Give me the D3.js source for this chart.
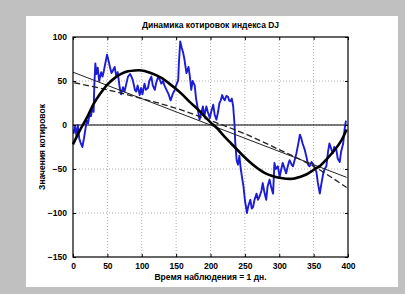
<!DOCTYPE html>
<html>
<head>
<meta charset="utf-8">
<script src="https://cdn.jsdelivr.net/npm/d3@7/dist/d3.min.js"></script>
<style>
  body { margin: 0; background: #c0c0c0; }
  svg { display: block; }
  text { font-family: "Liberation Sans", Arial, sans-serif; font-weight: bold; fill: #000; }
</style>
</head>
<body>
<svg id="chart"></svg>
<script>
// quotes (blue)
const quoteDays = [0, 1, 3, 5, 7, 9, 11, 13.6, 16, 18, 20, 22, 24, 26, 28, 30, 31, 32.5, 34, 36, 38, 41, 43, 45, 47, 49.5,
  52, 54, 56, 58, 60.6, 63, 65, 68, 70, 72.7, 75, 77, 80, 83, 85, 87, 90, 92, 94, 97, 99, 101, 104, 106, 109, 111,
  114, 116, 119, 121, 124, 126, 128.5, 131, 133, 136, 139, 142, 145, 148, 150, 153, 154, 156, 158, 160, 162, 165,
  168, 170, 172, 174, 177, 179, 181, 184, 186, 189, 191, 194, 196, 199, 201, 204, 206, 208.6, 211, 213, 215, 217,
  219, 220.6, 223, 225.5, 227, 229, 231, 233, 235, 236, 238, 240, 242, 244, 246, 248, 250, 252, 253, 255, 258,
  260, 262, 264, 267, 269, 271.5, 274, 276, 278, 281, 283, 286, 288, 291, 293, 295, 298, 300.6, 303, 305, 308,
  310, 313, 315, 318, 320, 323, 325, 328, 330, 332, 334, 337, 339.5, 342, 344, 347, 349, 352, 354, 356, 359, 361,
  364, 366, 368.5, 371, 373, 376, 378, 380, 383, 385, 388, 390, 393, 395, 397];
const quoteValues = [-5, -9, -2, -12, 0, -15, -20, -25, -15, -5, 5, 2, 13, 10, 18, 15, 45, 70, 58, 65, 50, 60, 55, 62, 70, 80,
  72, 65, 59, 62, 66, 55, 60, 42, 35, 43, 38, 45, 55, 58, 55, 51, 40, 38, 45, 34, 42, 35, 47, 40, 42, 50,
  55, 45, 40, 48, 55, 52, 47, 50, 45, 40, 35, 28, 35, 40, 45, 51, 70, 95, 88, 83, 75, 59,
  66, 55, 40, 50, 45, 30, 21, 6, 12, 21, 10, 21, 15, 8, 15, 23, 12, 6, 15, 25, 28, 34,
  30, 28, 33, 32, 28, 27, 30, 21, 0, -20, -40, -45, -35, -50, -60, -70, -85, -95, -100, -92, -85,
  -95, -93, -85, -78, -85, -81, -75, -66, -75, -85, -70, -62, -70, -78, -43, -50, -47, -59, -50, -43, -50,
  -55, -45, -40, -45, -47, -38, -32, -20, -11, -15, -21, -28, -36, -45, -47, -42, -44, -50, -53, -65, -78, -68,
  -55, -50, -47, -30, -21, -28, -32, -25, -28, -38, -42, -30, -21, -5, 5];

// fitted curves
const fitDays = [0, 10, 20, 30, 40, 50, 60, 70, 80, 90, 100, 110, 120, 130, 140, 150, 160, 170, 180, 190, 200,
  210, 220, 230, 240, 250, 260, 270, 280, 290, 300, 310, 320, 330, 340, 350, 360, 370, 380, 390, 398];
const cubicFit = [-22, -6, 8, 24, 36, 46, 53, 58, 61, 62, 62, 60, 57, 53, 47, 41, 34, 26, 19, 11, 3,
  -4, -13, -21, -29, -37, -44, -50, -55, -58, -60, -61, -61, -59, -56, -51, -46, -38, -29, -18, -5];

const lineDays = [0, 398];
const lineFit = [60, -59.5];

const dashDays = [2, 50, 100, 150, 200, 250, 300, 350, 398];
const dashFit = [48, 40, 30, 19, 5, -10, -28, -47, -71];

const xTicks = [0, 50, 100, 150, 200, 250, 300, 350, 400];
const yTicks = [-150, -100, -50, 0, 50, 100];

const W = 405, H = 294;
const margin = { top: 37, right: 57, bottom: 37, left: 73 };
const width = W - margin.left - margin.right;
const height = H - margin.top - margin.bottom;

const svg = d3.select("#chart").attr("width", W).attr("height", H);

svg.append("rect").attr("width", W).attr("height", H).attr("fill", "#c0c0c0");
svg.append("rect").attr("x", 26).attr("y", 16).attr("width", 372).attr("height", 271).attr("fill", "#fff");

const g = svg.append("g").attr("transform", "translate(" + margin.left + "," + margin.top + ")");

const x = d3.scaleLinear().domain([0, 400]).range([0, width]);
const y = d3.scaleLinear().domain([-150, 100]).range([height, 0]);

// grid
g.append("g").selectAll("line").data(xTicks.slice(1, -1)).enter().append("line")
  .attr("x1", d => x(d)).attr("x2", d => x(d)).attr("y1", 0).attr("y2", height)
  .attr("stroke", "#999").attr("stroke-width", 0.8).attr("stroke-dasharray", "1,2");
g.append("g").selectAll("line").data(yTicks.slice(1, -1)).enter().append("line")
  .attr("y1", d => y(d)).attr("y2", d => y(d)).attr("x1", 0).attr("x2", width)
  .attr("stroke", "#999").attr("stroke-width", 0.8).attr("stroke-dasharray", "1,2");

g.append("clipPath").attr("id", "clip").append("rect").attr("width", width).attr("height", height);

// zero line
g.append("line").attr("x1", x(0)).attr("x2", x(400)).attr("y1", y(0)).attr("y2", y(0))
  .attr("stroke", "#000").attr("stroke-width", 1.2);

const line = d3.line().x(d => x(d[0])).y(d => y(d[1]));

g.append("path")
  .datum(d3.zip(quoteDays, quoteValues))
  .attr("clip-path", "url(#clip)")
  .attr("fill", "none").attr("stroke", "#1c1cd6").attr("stroke-width", 1.9)
  .attr("stroke-linejoin", "round")
  .attr("d", line);

g.append("path")
  .datum(d3.zip(lineDays, lineFit))
  .attr("fill", "none").attr("stroke", "#222").attr("stroke-width", 1)
  .attr("d", line);

g.append("path")
  .datum(d3.zip(dashDays, dashFit))
  .attr("fill", "none").attr("stroke", "#222").attr("stroke-width", 1.3)
  .attr("stroke-dasharray", "6,3")
  .attr("d", d3.line().x(d => x(d[0])).y(d => y(d[1])).curve(d3.curveCatmullRom));

g.append("path")
  .datum(d3.zip(fitDays, cubicFit))
  .attr("fill", "none").attr("stroke", "#000").attr("stroke-width", 2.6)
  .attr("d", d3.line().x(d => x(d[0])).y(d => y(d[1])).curve(d3.curveCatmullRom));

// axes
const xAxis = d3.axisBottom(x).tickValues(xTicks).tickSizeInner(-3).tickSizeOuter(0).tickPadding(6);
const yAxis = d3.axisLeft(y).tickValues(yTicks).tickSizeInner(-3).tickSizeOuter(0).tickPadding(6);

g.append("g").attr("class", "x axis").attr("transform", "translate(0," + height + ")").call(xAxis);
g.append("g").attr("class", "y axis").call(yAxis);
g.append("g")
  .call(d3.axisTop(x).tickValues(xTicks).tickSizeInner(-3).tickSizeOuter(0).tickFormat(""));
g.append("g").attr("transform", "translate(" + width + ",0)")
  .call(d3.axisRight(y).tickValues(yTicks).tickSizeInner(-3).tickSizeOuter(0).tickFormat(""));

g.selectAll(".domain").remove();
g.selectAll(".tick line").attr("stroke", "#000");
g.selectAll(".tick text").style("font-size", "8.5px").style("font-weight", "bold")
  .style("font-family", "'Liberation Sans', Arial, sans-serif");

g.append("rect").attr("width", width).attr("height", height)
  .attr("fill", "none").attr("stroke", "#000").attr("stroke-width", 1.2);

// labels
svg.append("text").attr("x", margin.left + width / 2).attr("y", 28)
  .attr("text-anchor", "middle").style("font-size", "8.5px")
  .text("Динамика котировок индекса DJ");

svg.append("text").attr("x", margin.left + width / 2).attr("y", 280)
  .attr("text-anchor", "middle").style("font-size", "8.5px")
  .text("Время наблюдения = 1 дн.");

svg.append("text").attr("transform", "rotate(-90)")
  .attr("x", -(margin.top + height / 2)).attr("y", 45)
  .attr("text-anchor", "middle").style("font-size", "8.5px")
  .text("Значения котировок");
</script>
</body>
</html>
